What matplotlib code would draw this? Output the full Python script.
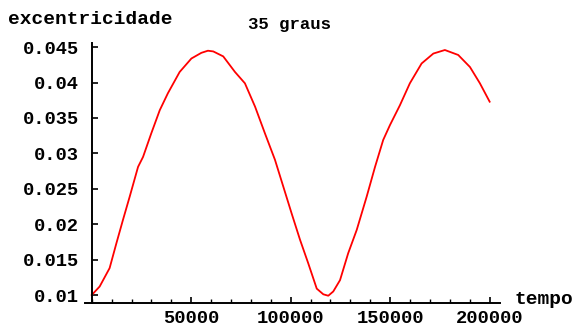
import matplotlib
matplotlib.use("Agg")
import matplotlib.pyplot as plt
from matplotlib.ticker import FixedLocator, FixedFormatter, MultipleLocator

tempo = [0, 4000, 9000, 12400, 15700, 19100, 23300, 25800, 29900, 34200, 38300,
         44200, 50100, 55100, 58400, 61100, 66100, 72000, 77000, 82100, 87100,
         92100, 96300, 100500, 104700, 108800, 113100, 116400, 118900, 121400,
         124800, 128900, 133200, 138200, 142400, 146500, 149900, 154900, 159900,
         165800, 171700, 177500, 184200, 190100, 195100, 200000]
excentricidade = [0.0100, 0.0112, 0.0138, 0.0173, 0.0206, 0.0239, 0.0281, 0.0295,
                  0.0328, 0.0361, 0.0385, 0.0415, 0.0434, 0.0442, 0.0445, 0.0444,
                  0.0437, 0.0415, 0.0399, 0.0366, 0.0328, 0.0291, 0.0253, 0.0215,
                  0.0178, 0.0145, 0.0109, 0.0101, 0.0099, 0.0105, 0.0121, 0.0159,
                  0.0192, 0.0239, 0.0281, 0.0319, 0.0340, 0.0368, 0.0399, 0.0427,
                  0.0441, 0.0446, 0.0439, 0.0422, 0.0399, 0.0373]

x_ticks = [50000, 100000, 150000, 200000]
x_labels = ["50000", "100000", "150000", "200000"]
y_ticks = [0.01, 0.015, 0.02, 0.025, 0.03, 0.035, 0.04, 0.045]
y_labels = ["0.01", "0.015", "0.02", "0.025", "0.03", "0.035", "0.04", "0.045"]

W, H = 574, 326
fig = plt.figure(figsize=(W / 100, H / 100), dpi=100)
ax = fig.add_axes([85 / W, (H - 303.3) / H, (500 - 85) / W, (303.3 - 43) / H])

ax.plot(tempo, excentricidade, color="#ff0000", lw=1.3)

ax.set_xlim(-3370, 205200)
ax.set_ylim(0.00883, 0.04559)

for s in ("top", "right"):
    ax.spines[s].set_visible(False)
ax.spines["left"].set_position(("data", 0))
for s in ("left", "bottom"):
    ax.spines[s].set_linewidth(1.4)

font = dict(family="Liberation Mono", weight="bold", size=14)

ax.xaxis.set_major_locator(FixedLocator(x_ticks))
ax.xaxis.set_major_formatter(FixedFormatter(x_labels))
ax.xaxis.set_minor_locator(MultipleLocator(10000))
ax.yaxis.set_major_locator(FixedLocator(y_ticks))
ax.yaxis.set_major_formatter(FixedFormatter(y_labels))

ax.tick_params(axis="both", which="major", direction="in", length=4, width=1.2, color="black")
ax.tick_params(axis="x", which="minor", direction="in", length=3, width=1.0)
ax.tick_params(axis="x", which="major", pad=5)
ax.tick_params(axis="y", which="major", pad=9)
for lab in ax.get_xticklabels() + ax.get_yticklabels():
    lab.set_fontfamily("Liberation Mono")
    lab.set_fontweight("bold")
    lab.set_fontsize(13.5)

fig.text(8 / W, 1 - 19 / H, "excentricidade", ha="left", va="center", **font)
fig.text(248 / W, 1 - 25 / H, "35 graus", ha="left", va="center",
         family="Liberation Mono", weight="bold", size=12.5)
fig.text(515 / W, 1 - 300 / H, "tempo", ha="left", va="center", **font)

fig.savefig("out.png", dpi=100)
